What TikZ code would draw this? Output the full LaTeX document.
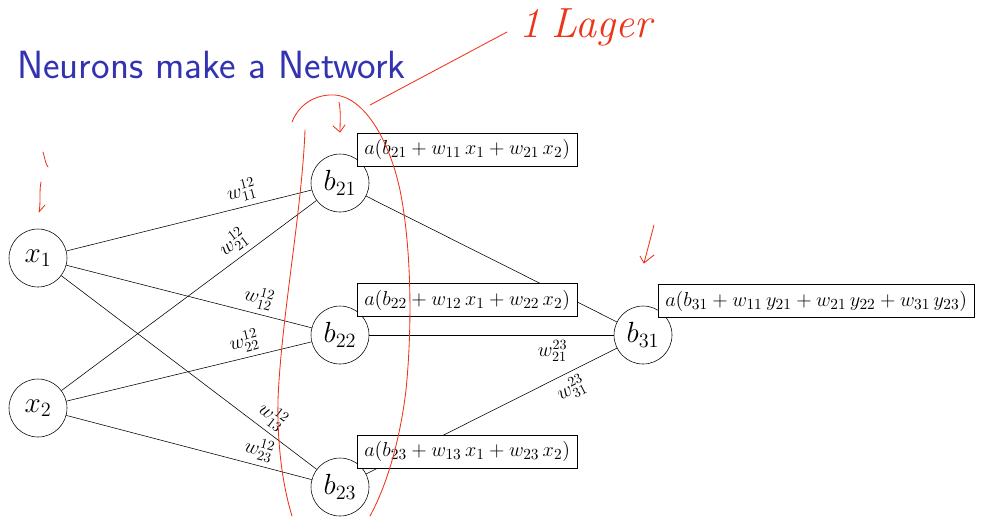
\documentclass[tikz,border=0pt]{standalone}
\usetikzlibrary{arrows.meta}
\definecolor{titleblue}{rgb}{0.2,0.2,0.7}
\definecolor{inkred}{rgb}{0.93,0.2,0.1}
\begin{document}
\begin{tikzpicture}[x=0.025cm,y=-0.025cm,
  neuron/.style={draw,circle,minimum size=58*0.025cm,inner sep=0pt,font=\fontsize{20}{24}\selectfont},
  actbox/.style={draw,fill=white,anchor=west,minimum height=33*0.025cm,inner xsep=7*0.025cm,inner ysep=0pt,font=\fontsize{15}{18}\selectfont},
  wlab/.style={sloped,font=\fontsize{14}{17}\selectfont,inner sep=3.5pt},
  ink/.style={draw=inkred,line width=0.6pt,line cap=round,line join=round}]
\useasboundingbox (0,0) rectangle (983,516);

% title
\node[anchor=base west,inner sep=0pt,text=titleblue,font=\sffamily\fontsize{28}{32}\selectfont] (title) at (17,78) {Neurons make a Network};

% neurons
\node[neuron] (x1) at (38,258) {$x_1$};
\node[neuron] (x2) at (38,408) {$x_2$};
\node[neuron] (b21) at (340,183) {$b_{21}$};
\node[neuron] (b22) at (340,335) {$b_{22}$};
\node[neuron] (b23) at (340,487) {$b_{23}$};
\node[neuron] (b31) at (643,335) {$b_{31}$};

% connectors layer 1 -> 2
\draw (x1) -- node[wlab,above,pos=0.73] {$w^{12}_{11}$} (b21);
\draw (x2) -- node[wlab,above,pos=0.71] {$w^{12}_{21}$} (b21);
\draw (x1) -- node[wlab,above,pos=0.77] {$w^{12}_{12}$} (b22);
\draw (x2) -- node[wlab,above,pos=0.74] {$w^{12}_{22}$} (b22);
\draw (x1) -- node[wlab,above,pos=0.79] {$w^{12}_{13}$} (b23);
\draw (x2) -- node[wlab,above,pos=0.77] {$w^{12}_{23}$} (b23);
% connectors layer 2 -> 3
\draw (b21) -- node[wlab,below,pos=0.72] {$w^{23}_{11}$} (b31);
\draw (b22) -- node[wlab,below,pos=0.75] {$w^{23}_{21}$} (b31);
\draw (b23) -- node[wlab,below,pos=0.79] {$w^{23}_{31}$} (b31);

% activation boxes
\node[actbox] (a21) at (357,149.5) {$a(b_{21}+w_{11}\,x_1+w_{21}\,x_2)$};
\node[actbox] (a22) at (357,300) {$a(b_{22}+w_{12}\,x_1+w_{22}\,x_2)$};
\node[actbox] (a23) at (357,451.5) {$a(b_{23}+w_{13}\,x_1+w_{23}\,x_2)$};
\node[actbox] (a31) at (658,301) {$a(b_{31}+w_{11}\,y_{21}+w_{21}\,y_{22}+w_{31}\,y_{23})$};

% red handwritten annotations
\path[ink] (292,122) .. controls (300,102) and (318,94) .. (335,95)
  .. controls (362,97) and (388,135) .. (400,190)
  .. controls (412,250) and (412,330) .. (406,390)
  .. controls (400,440) and (387,485) .. (370,516);
\path[ink] (305,130) .. controls (302,210) and (281,320) .. (278,400)
  .. controls (277,450) and (284,490) .. (292,516);
\path[ink] (339,102) .. controls (341,112) and (340,122) .. (340,132);
\path[ink] (333,126) -- (340,132) -- (345,125);
\path[ink] (370,105) -- (507,32);
\node[anchor=base west,inner sep=0pt,text=inkred,font=\itshape\fontsize{30}{34}\selectfont] (lager) at (519,37) {1\hspace{8pt}Lager};
\path[ink] (43,152) .. controls (45,158) and (45,163) .. (48,167);
\path[ink] (41,182) .. controls (39,192) and (41,202) .. (39,212) -- (45,205);
\path[ink] (654,225) -- (644,263);
\path[ink] (640,256) -- (644,263) -- (654,255);
\end{tikzpicture}
\end{document}
